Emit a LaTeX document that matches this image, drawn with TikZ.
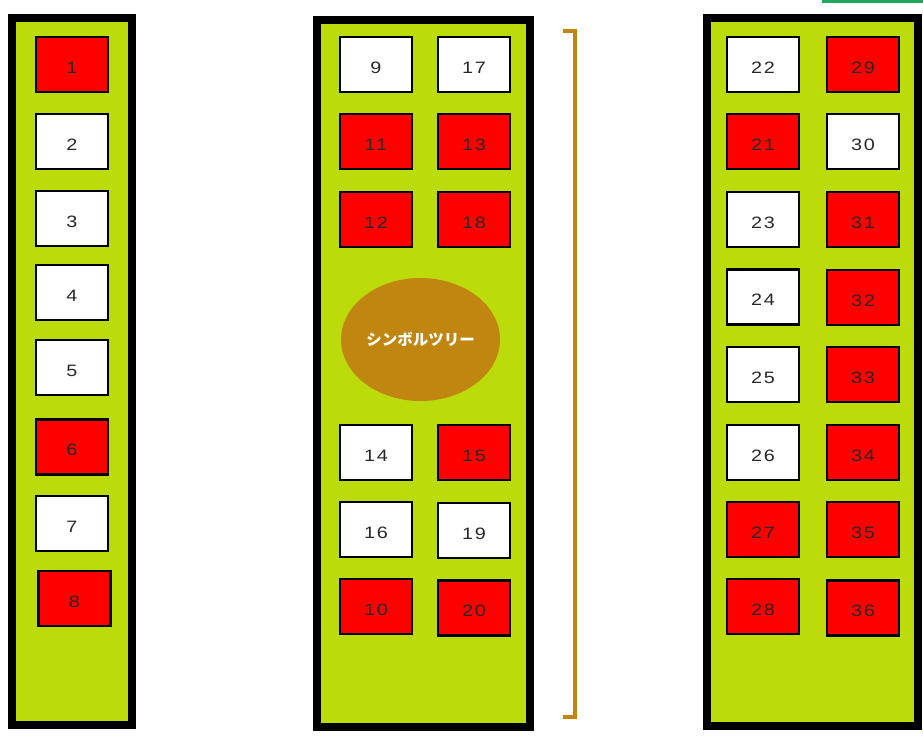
\documentclass[tikz,border=0pt]{standalone}
\usepackage{fontspec}
\setmainfont{Liberation Sans}[FakeStretch=1.2, LetterSpace=12]
\newfontfamily\jpfont{Noto Sans CJK JP}
\usetikzlibrary{shapes.geometric}
\definecolor{lawngreen}{RGB}{187,219,10}
\definecolor{seatred}{RGB}{255,0,0}
\definecolor{treebrown}{RGB}{192,134,16}
\definecolor{framegreen}{RGB}{30,170,90}
\definecolor{numgray}{RGB}{40,40,40}

\begin{document}
\begin{tikzpicture}[x=1pt, y=-1pt, line join=miter,
    strip/.style={draw=black, fill=lawngreen, line width=8pt},
    seat/.style={draw=black, fill=white, line width=2.5pt, minimum width=72pt,
      minimum height=55pt, inner sep=0pt, text height=17pt, text depth=0pt,
      font=\fontsize{16.5pt}{16.5pt}\selectfont, text=numgray},
    seatr/.style={seat, fill=seatred}]

      \useasboundingbox (0,0) rectangle (923,739);

      % Streifen
      \draw[strip] (12,18) rectangle (132,725);
      \draw[strip] (316.5,19.5) rectangle (530,727);
      \draw[strip] (707,18) rectangle (918,726);

      % Linke Reihe
      \node[seatr] (s1) at (72,64.5) {1};
      \node[seat]  (s2) at (72,141.5) {2};
      \node[seat]  (s3) at (72,218.5) {3};
      \node[seat]  (s4) at (72,292.5) {4};
      \node[seat]  (s5) at (72,367.5) {5};
      \node[seatr] (s6) at (72,447) {6};
      \node[seat]  (s7) at (72,523.5) {7};
      \node[seatr] (s8) at (74.5,598.5) {8};

      % Mittlere Reihe
      \node[seat]  (s9)  at (376,64.5) {9};
      \node[seat]  (s17) at (474,64.5) {17};
      \node[seatr] (s11) at (376,141.5) {11};
      \node[seatr] (s13) at (474,141.5) {13};
      \node[seatr] (s12) at (376,219.5) {12};
      \node[seatr] (s18) at (474,219.5) {18};
      \node[ellipse, fill=treebrown, minimum width=159pt, minimum height=123pt, inner sep=0pt,
            text=white, font=\jpfont\bfseries\fontsize{15.5pt}{16pt}\selectfont]
            (tree) at (420.5,339.5) {シンボルツリー};
      \node[seat]  (s14) at (376,452.5) {14};
      \node[seatr] (s15) at (474,452.5) {15};
      \node[seat]  (s16) at (376,529.5) {16};
      \node[seat]  (s19) at (474,530.5) {19};
      \node[seatr] (s10) at (376,606.5) {10};
      \node[seatr] (s20) at (474,608) {20};

      % Klammer
      \draw[treebrown, line width=4pt] (563,31) -| (575,717) -- (563,717);

      % Rechte Reihe
      \node[seat]  (s22) at (763,64.5) {22};
      \node[seatr] (s29) at (863,64.5) {29};
      \node[seatr] (s21) at (763,141.5) {21};
      \node[seat]  (s30) at (863,141.5) {30};
      \node[seat]  (s23) at (763,219.5) {23};
      \node[seatr] (s31) at (863,219.5) {31};
      \node[seat]  (s24) at (763,297) {24};
      \node[seatr] (s32) at (863,297.5) {32};
      \node[seat]  (s25) at (763,374.5) {25};
      \node[seatr] (s33) at (863,374.5) {33};
      \node[seat]  (s26) at (763,452.5) {26};
      \node[seatr] (s34) at (863,452.5) {34};
      \node[seatr] (s27) at (763,529.5) {27};
      \node[seatr] (s35) at (863,529.5) {35};
      \node[seatr] (s28) at (763,606.5) {28};
      \node[seatr] (s36) at (863,608) {36};

      % Rahmen oben rechts
      \draw[framegreen, line width=2.5pt] (823,-10) |- (935,1.5);
    \end{tikzpicture}
\end{document}
